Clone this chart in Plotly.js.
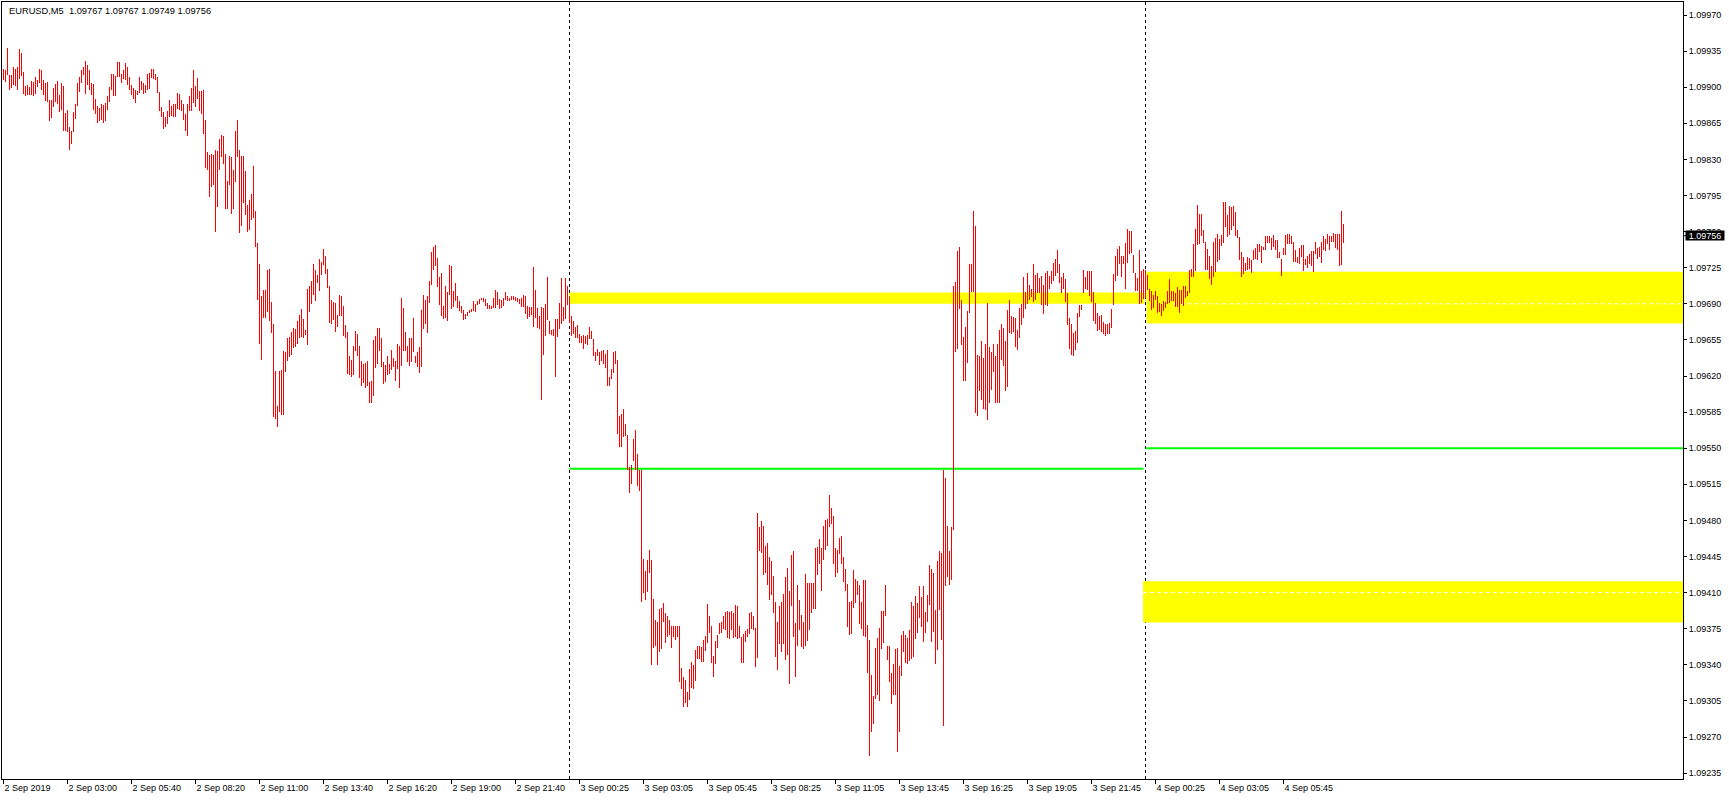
<!DOCTYPE html>
<html><head><meta charset="utf-8">
<script src="https://cdn.plot.ly/plotly-3.0.1.min.js"></script>
<style>html,body{margin:0;padding:0;background:#fff;overflow:hidden}#chart{width:1729px;height:800px}
.scatterlayer path.js-line{shape-rendering:crispEdges}</style>
</head><body><div id="chart"></div>
<script>
// ---- data (EURUSD M5 bars, high / low) ----
const symbol = 'EURUSD,M5';
const lastOHLC = [1.09767, 1.09767, 1.09749, 1.09756];

const barHigh = [
1.09918,1.09917,1.09938,1.09912,1.09912,1.09920,1.09918,1.09920,1.09937,1.09933,
1.09915,1.09901,1.09902,1.09900,1.09906,1.09905,1.09910,1.09907,1.09918,1.09917,
1.09907,1.09904,1.09905,1.09888,1.09888,1.09899,1.09903,1.09906,1.09892,1.09904,
1.09901,1.09875,1.09878,1.09861,1.09858,1.09876,1.09884,1.09904,1.09910,1.09917,
1.09920,1.09925,1.09922,1.09917,1.09904,1.09903,1.09889,1.09882,1.09880,1.09884,
1.09883,1.09885,1.09891,1.09900,1.09913,1.09913,1.09911,1.09924,1.09924,1.09913,
1.09917,1.09923,1.09920,1.09910,1.09902,1.09899,1.09897,1.09896,1.09910,1.09906,
1.09904,1.09902,1.09913,1.09914,1.09918,1.09918,1.09913,1.09910,1.09895,1.09881,
1.09876,1.09871,1.09877,1.09888,1.09882,1.09884,1.09884,1.09894,1.09893,1.09888,
1.09884,1.09874,1.09884,1.09891,1.09899,1.09917,1.09901,1.09909,1.09896,1.09896,
1.09897,1.09868,1.09837,1.09834,1.09835,1.09834,1.09839,1.09838,1.09850,1.09854,
1.09853,1.09835,1.09809,1.09833,1.09832,1.09820,1.09858,1.09868,1.09839,1.09833,
1.09833,1.09819,1.09786,1.09791,1.09796,1.09824,1.09780,1.09749,1.09729,1.09698,
1.09703,1.09703,1.09723,1.09724,1.09692,1.09670,1.09625,1.09591,1.09625,1.09626,
1.09644,1.09643,1.09657,1.09658,1.09663,1.09667,1.09666,1.09673,1.09679,1.09685,
1.09675,1.09665,1.09704,1.09707,1.09712,1.09729,1.09723,1.09718,1.09733,1.09731,
1.09743,1.09736,1.09724,1.09707,1.09694,1.09692,1.09691,1.09679,1.09699,1.09698,
1.09688,1.09669,1.09663,1.09639,1.09636,1.09649,1.09664,1.09661,1.09649,1.09635,
1.09632,1.09633,1.09635,1.09614,1.09615,1.09655,1.09659,1.09667,1.09667,1.09657,
1.09634,1.09631,1.09639,1.09632,1.09645,1.09637,1.09635,1.09651,1.09649,1.09696,
1.09686,1.09663,1.09649,1.09657,1.09657,1.09676,1.09639,1.09643,1.09648,1.09684,
1.09699,1.09694,1.09698,1.09712,1.09740,1.09745,1.09747,1.09734,1.09716,1.09720,
1.09688,1.09707,1.09701,1.09728,1.09727,1.09702,1.09710,1.09698,1.09693,1.09688,
1.09684,1.09680,1.09682,1.09684,1.09685,1.09693,1.09690,1.09693,1.09695,1.09696,
1.09696,1.09695,1.09691,1.09689,1.09688,1.09696,1.09703,1.09701,1.09695,1.09694,
1.09696,1.09701,1.09698,1.09696,1.09698,1.09698,1.09697,1.09696,1.09695,1.09696,
1.09699,1.09698,1.09688,1.09687,1.09687,1.09726,1.09703,1.09686,1.09678,1.09687,
1.09686,1.09690,1.09716,1.09673,1.09665,1.09666,1.09675,1.09675,1.09691,1.09715,
1.09687,1.09715,1.09707,1.09697,1.09678,1.09673,1.09668,1.09669,1.09661,1.09659,
1.09660,1.09659,1.09660,1.09668,1.09664,1.09656,1.09643,1.09646,1.09643,1.09644,
1.09645,1.09641,1.09645,1.09619,1.09627,1.09643,1.09644,1.09636,1.09581,1.09583,
1.09588,1.09573,1.09563,1.09532,1.09534,1.09559,1.09568,1.09544,1.09529,1.09529,
1.09443,1.09431,1.09442,1.09451,1.09442,1.09404,1.09383,1.09382,1.09394,1.09395,
1.09400,1.09390,1.09387,1.09383,1.09378,1.09378,1.09378,1.09378,1.09378,1.09337,
1.09328,1.09325,1.09314,1.09336,1.09343,1.09340,1.09354,1.09358,1.09358,1.09357,
1.09364,1.09368,1.09399,1.09387,1.09378,1.09349,1.09363,1.09369,1.09381,1.09382,
1.09387,1.09391,1.09392,1.09391,1.09392,1.09390,1.09398,1.09397,1.09378,1.09367,
1.09370,1.09373,1.09375,1.09390,1.09391,1.09387,1.09376,1.09487,1.09474,1.09479,
1.09475,1.09455,1.09458,1.09445,1.09441,1.09426,1.09401,1.09382,1.09397,1.09401,
1.09409,1.09425,1.09434,1.09412,1.09446,1.09450,1.09381,1.09417,1.09403,1.09388,
1.09382,1.09428,1.09419,1.09419,1.09419,1.09419,1.09453,1.09454,1.09462,1.09453,
1.09475,1.09480,1.09481,1.09505,1.09492,1.09484,1.09453,1.09451,1.09463,1.09465,
1.09445,1.09433,1.09418,1.09401,1.09402,1.09432,1.09423,1.09421,1.09417,1.09401,
1.09422,1.09422,1.09379,1.09364,1.09330,1.09310,1.09356,1.09366,1.09376,1.09392,
1.09392,1.09417,1.09358,1.09358,1.09332,1.09341,1.09355,1.09356,1.09339,1.09369,
1.09373,1.09369,1.09366,1.09374,1.09401,1.09397,1.09407,1.09400,1.09416,1.09406,
1.09416,1.09391,1.09408,1.09437,1.09433,1.09429,1.09393,1.09441,1.09450,1.09448,
1.09529,1.09521,1.09475,1.09450,1.09474,1.09707,1.09711,1.09741,1.09745,1.09694,
1.09658,1.09668,1.09683,1.09729,1.09729,1.09780,1.09765,1.09640,1.09639,1.09654,
1.09637,1.09651,1.09691,1.09648,1.09643,1.09651,1.09639,1.09651,1.09665,1.09670,
1.09667,1.09654,1.09684,1.09694,1.09678,1.09677,1.09676,1.09665,1.09686,1.09690,
1.09716,1.09701,1.09720,1.09708,1.09704,1.09729,1.09718,1.09720,1.09715,1.09717,
1.09708,1.09720,1.09722,1.09717,1.09722,1.09730,1.09733,1.09742,1.09729,1.09716,
1.09720,1.09714,1.09700,1.09676,1.09670,1.09662,1.09664,1.09681,1.09689,1.09689,
1.09723,1.09716,1.09722,1.09722,1.09722,1.09701,1.09691,1.09681,1.09678,1.09679,
1.09672,1.09670,1.09670,1.09671,1.09685,1.09719,1.09736,1.09743,1.09746,1.09736,
1.09736,1.09749,1.09763,1.09761,1.09761,1.09737,1.09720,1.09715,1.09742,1.09722,
1.09724,1.09723,1.09718,1.09704,1.09702,1.09699,1.09702,1.09698,1.09691,1.09690,
1.09693,1.09692,1.09702,1.09714,1.09702,1.09702,1.09700,1.09706,1.09703,1.09703,
1.09707,1.09707,1.09702,1.09723,1.09724,1.09748,1.09763,1.09786,1.09777,1.09777,
1.09762,1.09750,1.09743,1.09736,1.09727,1.09750,1.09754,1.09758,1.09753,1.09757,
1.09789,1.09789,1.09776,1.09785,1.09784,1.09785,1.09779,1.09762,1.09755,1.09740,
1.09735,1.09730,1.09735,1.09734,1.09732,1.09742,1.09744,1.09748,1.09748,1.09746,
1.09745,1.09756,1.09756,1.09756,1.09754,1.09757,1.09752,1.09752,1.09740,1.09733,
1.09744,1.09757,1.09758,1.09758,1.09756,1.09750,1.09742,1.09735,1.09744,1.09747,
1.09747,1.09733,1.09736,1.09738,1.09741,1.09741,1.09750,1.09744,1.09745,1.09750,
1.09756,1.09753,1.09758,1.09756,1.09756,1.09759,1.09758,1.09758,1.09758,1.09780,
1.09767];

const barLow = [
1.09907,1.09905,1.09912,1.09897,1.09899,1.09902,1.09901,1.09897,1.09908,1.09911,
1.09893,1.09891,1.09892,1.09892,1.09892,1.09891,1.09893,1.09900,1.09904,1.09897,
1.09892,1.09887,1.09886,1.09867,1.09870,1.09881,1.09886,1.09884,1.09876,1.09878,
1.09858,1.09858,1.09857,1.09839,1.09845,1.09857,1.09869,1.09882,1.09895,1.09904,
1.09912,1.09893,1.09902,1.09897,1.09892,1.09878,1.09874,1.09865,1.09867,1.09868,
1.09865,1.09867,1.09878,1.09886,1.09897,1.09891,1.09891,1.09910,1.09910,1.09904,
1.09908,1.09907,1.09902,1.09897,1.09892,1.09889,1.09885,1.09892,1.09894,1.09897,
1.09893,1.09894,1.09897,1.09898,1.09909,1.09908,1.09907,1.09894,1.09877,1.09871,
1.09859,1.09861,1.09864,1.09871,1.09872,1.09871,1.09871,1.09879,1.09878,1.09877,
1.09868,1.09858,1.09853,1.09877,1.09877,1.09885,1.09881,1.09889,1.09877,1.09874,
1.09855,1.09822,1.09820,1.09794,1.09803,1.09805,1.09760,1.09784,1.09820,1.09832,
1.09826,1.09782,1.09782,1.09805,1.09777,1.09782,1.09808,1.09832,1.09759,1.09765,
1.09788,1.09776,1.09760,1.09762,1.09771,1.09773,1.09745,1.09694,1.09651,1.09636,
1.09676,1.09676,1.09682,1.09673,1.09662,1.09580,1.09578,1.09571,1.09585,1.09582,
1.09582,1.09624,1.09635,1.09638,1.09640,1.09647,1.09648,1.09651,1.09657,1.09658,
1.09657,1.09660,1.09650,1.09682,1.09690,1.09699,1.09693,1.09710,1.09702,1.09718,
1.09728,1.09719,1.09705,1.09671,1.09670,1.09674,1.09663,1.09668,1.09678,1.09678,
1.09659,1.09657,1.09622,1.09621,1.09619,1.09621,1.09644,1.09639,1.09618,1.09610,
1.09613,1.09608,1.09610,1.09594,1.09594,1.09601,1.09628,1.09632,1.09644,1.09629,
1.09612,1.09614,1.09621,1.09622,1.09626,1.09629,1.09615,1.09627,1.09608,1.09630,
1.09644,1.09644,1.09634,1.09630,1.09634,1.09643,1.09633,1.09629,1.09623,1.09629,
1.09666,1.09670,1.09662,1.09691,1.09708,1.09723,1.09727,1.09706,1.09689,1.09678,
1.09675,1.09676,1.09673,1.09699,1.09685,1.09687,1.09693,1.09686,1.09683,1.09681,
1.09674,1.09675,1.09678,1.09681,1.09682,1.09683,1.09682,1.09689,1.09690,1.09694,
1.09692,1.09688,1.09685,1.09685,1.09685,1.09686,1.09686,1.09689,1.09685,1.09686,
1.09688,1.09694,1.09693,1.09693,1.09694,1.09694,1.09693,1.09692,1.09690,1.09687,
1.09687,1.09680,1.09675,1.09677,1.09679,1.09668,1.09676,1.09667,1.09666,1.09597,
1.09640,1.09659,1.09674,1.09661,1.09660,1.09659,1.09619,1.09658,1.09666,1.09670,
1.09673,1.09675,1.09689,1.09671,1.09659,1.09661,1.09657,1.09657,1.09652,1.09652,
1.09646,1.09651,1.09650,1.09656,1.09656,1.09639,1.09635,1.09639,1.09631,1.09635,
1.09632,1.09628,1.09610,1.09610,1.09617,1.09623,1.09632,1.09564,1.09551,1.09551,
1.09561,1.09562,1.09529,1.09507,1.09515,1.09538,1.09529,1.09513,1.09509,1.09401,
1.09410,1.09403,1.09411,1.09429,1.09340,1.09356,1.09358,1.09340,1.09352,1.09355,
1.09382,1.09361,1.09367,1.09369,1.09356,1.09367,1.09364,1.09367,1.09323,1.09317,
1.09299,1.09303,1.09299,1.09306,1.09318,1.09317,1.09324,1.09346,1.09346,1.09343,
1.09343,1.09353,1.09361,1.09371,1.09342,1.09328,1.09341,1.09356,1.09370,1.09371,
1.09375,1.09374,1.09366,1.09365,1.09374,1.09366,1.09367,1.09365,1.09366,1.09342,
1.09342,1.09362,1.09367,1.09370,1.09375,1.09374,1.09338,1.09347,1.09450,1.09448,
1.09427,1.09429,1.09417,1.09403,1.09408,1.09390,1.09348,1.09335,1.09360,1.09352,
1.09360,1.09345,1.09350,1.09321,1.09397,1.09367,1.09328,1.09358,1.09374,1.09357,
1.09355,1.09358,1.09363,1.09374,1.09390,1.09394,1.09394,1.09427,1.09438,1.09412,
1.09442,1.09451,1.09455,1.09474,1.09477,1.09438,1.09425,1.09429,1.09447,1.09438,
1.09420,1.09412,1.09377,1.09369,1.09370,1.09395,1.09400,1.09408,1.09380,1.09375,
1.09368,1.09367,1.09332,1.09252,1.09275,1.09283,1.09307,1.09311,1.09305,1.09355,
1.09361,1.09387,1.09345,1.09323,1.09302,1.09311,1.09311,1.09255,1.09275,1.09329,
1.09352,1.09342,1.09341,1.09344,1.09346,1.09348,1.09365,1.09371,1.09385,1.09377,
1.09362,1.09371,1.09382,1.09398,1.09362,1.09372,1.09341,1.09354,1.09393,1.09364,
1.09281,1.09416,1.09425,1.09417,1.09422,1.09471,1.09643,1.09646,1.09685,1.09650,
1.09615,1.09615,1.09633,1.09681,1.09701,1.09701,1.09584,1.09581,1.09605,1.09597,
1.09588,1.09587,1.09577,1.09594,1.09606,1.09624,1.09594,1.09594,1.09594,1.09636,
1.09630,1.09605,1.09609,1.09662,1.09661,1.09663,1.09648,1.09645,1.09657,1.09669,
1.09676,1.09685,1.09690,1.09694,1.09697,1.09692,1.09694,1.09700,1.09700,1.09689,
1.09680,1.09689,1.09688,1.09704,1.09709,1.09712,1.09717,1.09720,1.09710,1.09700,
1.09704,1.09692,1.09669,1.09646,1.09640,1.09639,1.09645,1.09652,1.09677,1.09684,
1.09700,1.09704,1.09703,1.09698,1.09692,1.09673,1.09670,1.09664,1.09665,1.09663,
1.09661,1.09659,1.09661,1.09661,1.09667,1.09689,1.09712,1.09717,1.09729,1.09716,
1.09729,1.09704,1.09730,1.09738,1.09739,1.09720,1.09702,1.09702,1.09690,1.09691,
1.09695,1.09696,1.09703,1.09693,1.09684,1.09686,1.09694,1.09681,1.09682,1.09678,
1.09683,1.09686,1.09690,1.09691,1.09693,1.09693,1.09687,1.09687,1.09681,1.09690,
1.09688,1.09696,1.09698,1.09700,1.09716,1.09716,1.09722,1.09747,1.09748,1.09756,
1.09749,1.09723,1.09723,1.09714,1.09708,1.09716,1.09721,1.09731,1.09732,1.09746,
1.09749,1.09764,1.09755,1.09757,1.09762,1.09765,1.09756,1.09754,1.09732,1.09716,
1.09719,1.09722,1.09723,1.09724,1.09720,1.09732,1.09733,1.09732,1.09740,1.09730,
1.09742,1.09742,1.09749,1.09749,1.09742,1.09745,1.09742,1.09734,1.09734,1.09717,
1.09737,1.09737,1.09748,1.09748,1.09748,1.09731,1.09731,1.09730,1.09729,1.09735,
1.09722,1.09728,1.09725,1.09729,1.09727,1.09721,1.09738,1.09733,1.09735,1.09730,
1.09742,1.09741,1.09748,1.09742,1.09750,1.09750,1.09744,1.09742,1.09727,1.09728,
1.09749];

const xTickBars = [0,32,64,96,128,160,192,224,256,288,320,352,384,416,448,480,512,544,576,608,640];
const xTickLabels = ['2 Sep 2019','2 Sep 03:00','2 Sep 05:40','2 Sep 08:20','2 Sep 11:00','2 Sep 13:40',
  '2 Sep 16:20','2 Sep 19:00','2 Sep 21:40','3 Sep 00:25','3 Sep 03:05','3 Sep 05:45','3 Sep 08:25',
  '3 Sep 11:05','3 Sep 13:45','3 Sep 16:25','3 Sep 19:05','3 Sep 21:45','4 Sep 00:25','4 Sep 03:05','4 Sep 05:45'];
const yTickValues = [1.09235,1.09270,1.09305,1.09340,1.09375,1.09410,1.09445,1.09480,1.09515,1.09550,1.09585,
  1.09620,1.09655,1.09690,1.09725,1.09760,1.09795,1.09830,1.09865,1.09900,1.09935,1.09970];

const daySeparatorBars = [283, 571];
// supply / demand zones
const zoneStartBar = [283, 571.5, 569.75];
const zoneEndBar   = [570.5, null, null];   // null = extends to the right edge
const zoneBottom   = [1.09690, 1.09671, 1.09381];
const zoneTop      = [1.09701, 1.09721, 1.09421];
// zone mid lines (white dashed)
const midStartBar = [585, 569.75];
const midPrice    = [1.09690, 1.09410];
// green levels
const levelStartBar = [283, 571];
const levelEndBar   = [570, null];
const levelPrice    = [1.09530, 1.09550];

// ---- build ----
const X_MIN = -0.75, X_MAX = 839.75;
const Y_MIN = 1.092293, Y_MAX = 1.099826;

const xs = [], ys = [];
for (let i = 0; i < barHigh.length; i++) {
  xs.push(i, i, null);
  ys.push(barHigh[i], barLow[i], null);
}

const shapes = [];
for (let k = 0; k < zoneStartBar.length; k++) {
  shapes.push({type:'rect', xref:'x', yref:'y', x0:zoneStartBar[k], x1:(zoneEndBar[k]===null?X_MAX:zoneEndBar[k]),
    y0:zoneBottom[k], y1:zoneTop[k], fillcolor:'#ffff00', line:{width:0}, layer:'below'});
}
for (let k = 0; k < midPrice.length; k++) {
  shapes.push({type:'line', xref:'x', yref:'y', x0:midStartBar[k], x1:X_MAX, y0:midPrice[k], y1:midPrice[k],
    line:{color:'#ffffff', width:1, dash:'4px,3px'}, layer:'below'});
}
for (let k = 0; k < levelPrice.length; k++) {
  shapes.push({type:'line', xref:'x', yref:'y', x0:levelStartBar[k], x1:(levelEndBar[k]===null?X_MAX:levelEndBar[k]),
    y0:levelPrice[k], y1:levelPrice[k], line:{color:'#00ff00', width:2}, layer:'below'});
}
for (const b of daySeparatorBars) {
  shapes.push({type:'line', xref:'x', yref:'paper', x0:b, x1:b, y0:0, y1:1,
    line:{color:'#000000', width:1, dash:'3px,3px'}, layer:'below'});
}
// small tick for current price on axis
shapes.push({type:'line', xref:'paper', yref:'y', x0:1, x1:1.0018, y0:lastOHLC[3], y1:lastOHLC[3],
  line:{color:'#000', width:1}});

const fmt = v => v.toFixed(5);
const font = {family:'Liberation Sans, Arial, sans-serif', size:9, color:'#000'};

const layout = {
  width:1729, height:800,
  margin:{l:2, r:46, t:2, b:21, pad:0},
  paper_bgcolor:'#ffffff', plot_bgcolor:'#ffffff',
  showlegend:false,
  font:font,
  xaxis:{type:'linear', range:[X_MIN, X_MAX], tickmode:'array', tickvals:xTickBars, ticktext:xTickLabels,
    ticks:'outside', ticklen:4, tickcolor:'#000', tickwidth:1, ticklabelposition:'outside right',
    showline:true, linecolor:'#000', linewidth:1, mirror:true, showgrid:false, zeroline:false,
    tickfont:font, fixedrange:true},
  yaxis:{range:[Y_MIN, Y_MAX], side:'right', tickmode:'array', tickvals:yTickValues, ticktext:yTickValues.map(fmt),
    ticks:'outside', ticklen:3, tickcolor:'#000', tickwidth:1,
    showline:true, linecolor:'#000', linewidth:1, mirror:true, showgrid:false, zeroline:false,
    tickfont:font, fixedrange:true},
  shapes:shapes,
  annotations:[
    {xref:'paper', yref:'paper', x:(7-2)/1681, y:1-(11-2)/777, xanchor:'left', yanchor:'middle', showarrow:false,
      text: symbol + '\u00a0\u00a0' + lastOHLC.map(fmt).join(' '), font:{family:font.family, size:9.3, color:'#000'}},
    {xref:'paper', yref:'y', x:1, y:lastOHLC[3], xanchor:'left', yanchor:'middle', xshift:2, showarrow:false,
      text: fmt(lastOHLC[3]), bgcolor:'#000000', borderpad:0, width:38, height:9,
      font:{family:font.family, size:9, color:'#ffffff'}}
  ]
};

const trace = {type:'scatter', mode:'lines', x:xs, y:ys, connectgaps:false,
  line:{color:'#ff0000', width:1}, hoverinfo:'skip'};

Plotly.newPlot('chart', [trace], layout, {staticPlot:true, displayModeBar:false});
</script>
</body></html>
